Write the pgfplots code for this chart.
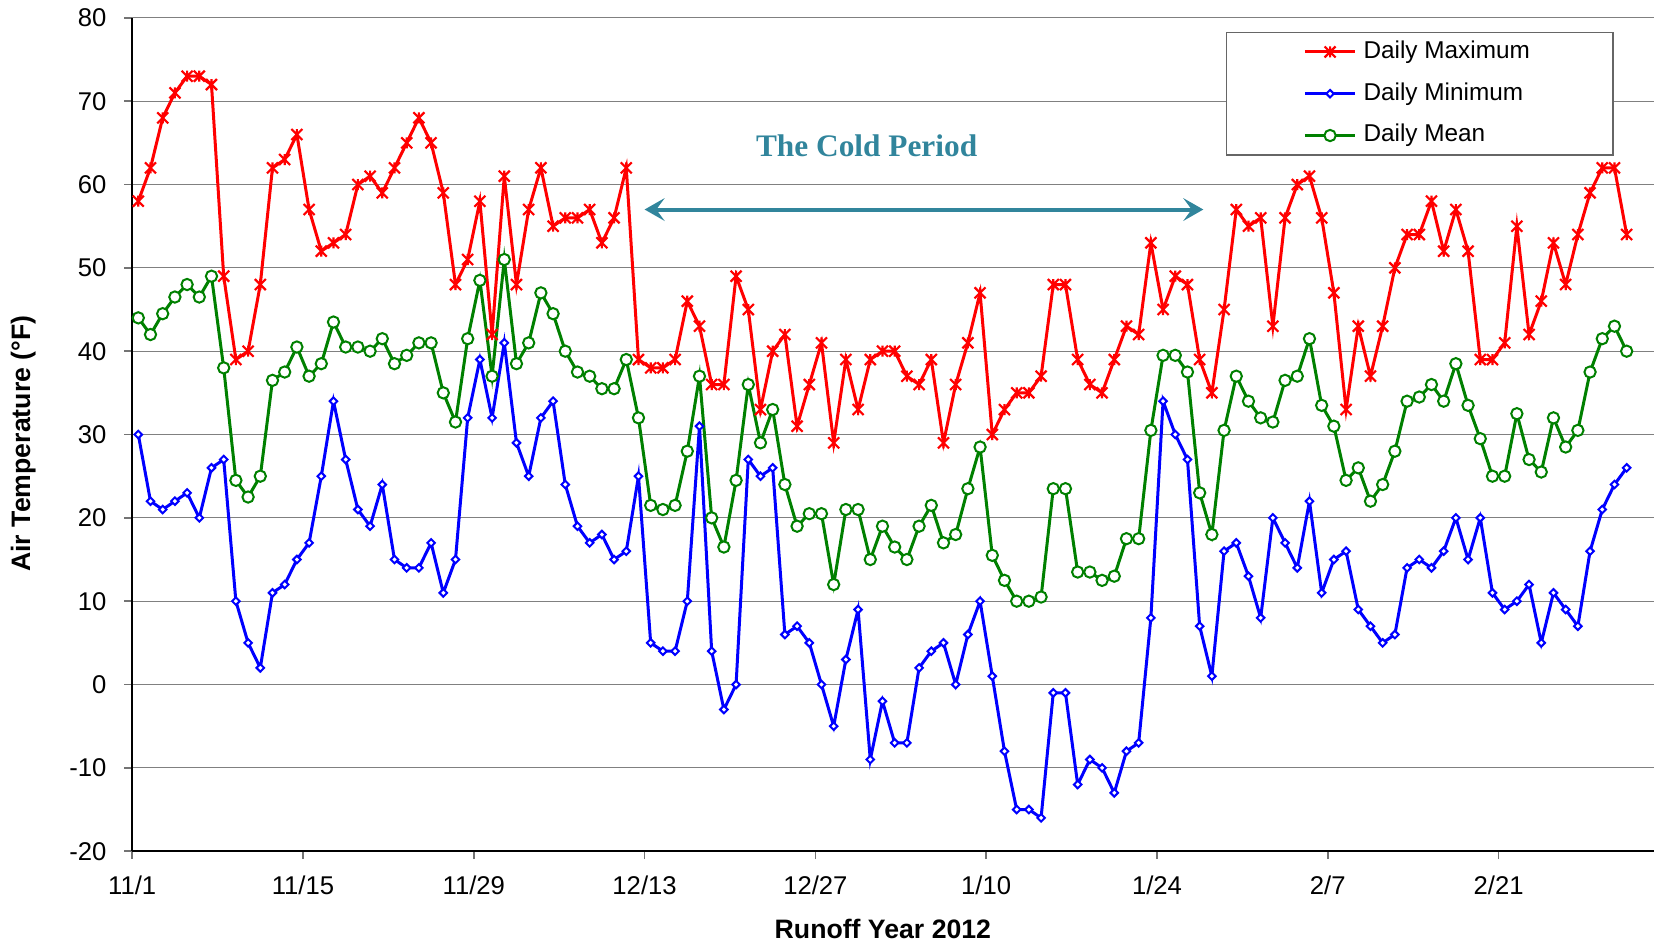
\documentclass[border=0pt]{standalone}
\usepackage{fontspec}
\setmainfont{Liberation Sans}
\newfontfamily\timesfont{Liberation Serif}
\usepackage{pgfplots}
\usepackage{pgfplotstable}
\pgfplotsset{compat=1.18}
\usetikzlibrary{arrows.meta}
\definecolor{xlgreen}{RGB}{0,128,0}
\definecolor{teal}{RGB}{49,133,156}
\pgfdeclareplotmark{xast}{%
  \pgfpathmoveto{\pgfqpoint{-\pgfplotmarksize}{-\pgfplotmarksize}}%
  \pgfpathlineto{\pgfqpoint{\pgfplotmarksize}{\pgfplotmarksize}}%
  \pgfpathmoveto{\pgfqpoint{-\pgfplotmarksize}{\pgfplotmarksize}}%
  \pgfpathlineto{\pgfqpoint{\pgfplotmarksize}{-\pgfplotmarksize}}%
  \pgfpathmoveto{\pgfqpoint{0pt}{-\pgfplotmarksize}}%
  \pgfpathlineto{\pgfqpoint{0pt}{\pgfplotmarksize}}%
  \pgfusepathqstroke}
\pgfplotstableread{
day max min mean
0 58 30 44
1 62 22 42
2 68 21 44.5
3 71 22 46.5
4 73 23 48
5 73 20 46.5
6 72 26 49
7 49 27 38
8 39 10 24.5
9 40 5 22.5
10 48 2 25
11 62 11 36.5
12 63 12 37.5
13 66 15 40.5
14 57 17 37
15 52 25 38.5
16 53 34 43.5
17 54 27 40.5
18 60 21 40.5
19 61 19 40
20 59 24 41.5
21 62 15 38.5
22 65 14 39.5
23 68 14 41
24 65 17 41
25 59 11 35
26 48 15 31.5
27 51 32 41.5
28 58 39 48.5
29 42 32 37
30 61 41 51
31 48 29 38.5
32 57 25 41
33 62 32 47
34 55 34 44.5
35 56 24 40
36 56 19 37.5
37 57 17 37
38 53 18 35.5
39 56 15 35.5
40 62 16 39
41 39 25 32
42 38 5 21.5
43 38 4 21
44 39 4 21.5
45 46 10 28
46 43 31 37
47 36 4 20
48 36 -3 16.5
49 49 0 24.5
50 45 27 36
51 33 25 29
52 40 26 33
53 42 6 24
54 31 7 19
55 36 5 20.5
56 41 0 20.5
57 29 -5 12
58 39 3 21
59 33 9 21
60 39 -9 15
61 40 -2 19
62 40 -7 16.5
63 37 -7 15
64 36 2 19
65 39 4 21.5
66 29 5 17
67 36 0 18
68 41 6 23.5
69 47 10 28.5
70 30 1 15.5
71 33 -8 12.5
72 35 -15 10
73 35 -15 10
74 37 -16 10.5
75 48 -1 23.5
76 48 -1 23.5
77 39 -12 13.5
78 36 -9 13.5
79 35 -10 12.5
80 39 -13 13
81 43 -8 17.5
82 42 -7 17.5
83 53 8 30.5
84 45 34 39.5
85 49 30 39.5
86 48 27 37.5
87 39 7 23
88 35 1 18
89 45 16 30.5
90 57 17 37
91 55 13 34
92 56 8 32
93 43 20 31.5
94 56 17 36.5
95 60 14 37
96 61 22 41.5
97 56 11 33.5
98 47 15 31
99 33 16 24.5
100 43 9 26
101 37 7 22
102 43 5 24
103 50 6 28
104 54 14 34
105 54 15 34.5
106 58 14 36
107 52 16 34
108 57 20 38.5
109 52 15 33.5
110 39 20 29.5
111 39 11 25
112 41 9 25
113 55 10 32.5
114 42 12 27
115 46 5 25.5
116 53 11 32
117 48 9 28.5
118 54 7 30.5
119 59 16 37.5
120 62 21 41.5
121 62 24 43
122 54 26 40
}\datatable
\begin{document}
\begin{tikzpicture}
\begin{axis}[
  at={(0,0)}, anchor=south west,
  scale only axis, width=456.54pt, height=250pt,
  xmin=-0.5, xmax=124.24, ymin=-20, ymax=80,
  axis x line*=bottom, axis y line*=left,
  axis line style={-, black, line width=0.55pt},
  xtick={-0.5,13.5,27.5,41.5,55.5,69.5,83.5,97.5,111.5},
  xticklabels={11/1,11/15,11/29,12/13,12/27,1/10,1/24,2/7,2/21},
  ytick={-20,-10,0,10,20,30,40,50,60,70,80},
  yticklabels={-20,-10,0,10,20,30,40,50,60,70,80},
  ymajorgrids, grid style={black!50, line width=0.35pt},
  tick align=outside, major tick length=2.4pt,
  tick style={black!55, line width=0.45pt},
  tick label style={font=\fontsize{7.7}{9}\selectfont},
  yticklabel style={xshift=-1.8pt},
  xticklabel style={yshift=-1.5pt},
  xlabel={Runoff Year 2012}, ylabel={Air Temperature (°F)},
  label style={font=\bfseries\fontsize{8}{9.6}\selectfont},
  xlabel style={at={(axis description cs:0.4933,-0.0932)}, anchor=center},
  ylabel style={at={(axis description cs:-0.0716,0.489)}, anchor=center},
  legend style={at={(0.9737,0.9836)}, anchor=north east, draw=black!60,
    line width=0.45pt, fill=white, font=\fontsize{7.3}{8.5}\selectfont,
    inner xsep=23pt, inner ysep=0.5pt, row sep=1.75pt,
    /tikz/every even column/.append style={column sep=0pt}},
  legend cell align=left,
  legend image code/.code={\draw[mark repeat=2,mark phase=2,#1] plot coordinates {(0pt,0pt) (7.6pt,0pt) (15.2pt,0pt)};},
]
\addplot[color=red, line width=0.9pt, mark=xast, mark size=1.65pt, mark options={solid, line width=0.65pt}] table[x=day,y=max]{\datatable};
\addlegendentry{Daily Maximum}
\addplot[color=blue, line width=0.9pt, mark=square*, mark size=0.8pt, mark options={solid, rotate=45, fill=white, line width=0.6pt}] table[x=day,y=min]{\datatable};
\addlegendentry{Daily Minimum}
\addplot[color=xlgreen, line width=0.9pt, mark=*, mark size=1.7pt, mark options={solid, fill=white, line width=0.6pt}] table[x=day,y=mean]{\datatable};
\addlegendentry{Daily Mean}
\draw[teal, line width=1.2pt, {Stealth[length=6pt,width=6.8pt,inset=2.5pt]}-{Stealth[length=6pt,width=6.8pt,inset=2.5pt]}] (axis cs:41.5,57) -- (axis cs:87.3,57);
\node[text=teal, font=\timesfont\bfseries\fontsize{9.4}{11}\selectfont, anchor=center] at (axis cs:59.7,64.6) {The Cold Period};
\end{axis}
\pgfresetboundingbox
\path[use as bounding box] (-39.66pt,-28.14pt) rectangle (456.54pt,255.36pt);
\end{tikzpicture}
\end{document}
